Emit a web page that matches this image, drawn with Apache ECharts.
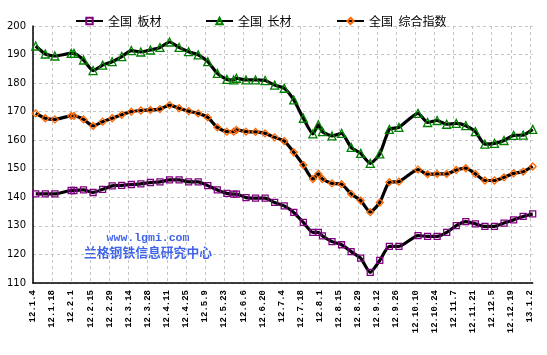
<!DOCTYPE html>
<html><head><meta charset="utf-8">
<script src="https://cdn.jsdelivr.net/npm/echarts@6/dist/echarts.min.js"></script>
<style>html,body{margin:0;padding:0;background:#fff}#c{width:547px;height:355px}</style>
</head><body><div id="c"></div>
<script>
// tick labels every 14 days starting 2012-01-04 (day 0)
const tickLabels = ['12.1.4','12.1.18','12.2.1','12.2.15','12.2.29','12.3.14','12.3.28','12.4.11','12.4.25','12.5.9','12.5.23','12.6.6','12.6.20','12.7.4','12.7.18','12.8.1','12.8.15','12.8.29','12.9.12','12.9.26','12.10.10','12.10.24','12.11.7','12.11.21','12.12.5','12.12.19','13.1.2'];
// data dates as days after 2012-01-04
const days = [2,9,16,28,30,37,44,51,58,65,72,79,86,93,100,107,114,121,128,135,142,147,149,156,163,170,177,184,191,198,205,209,212,219,226,233,240,247,254,261,268,282,289,296,303,310,317,324,331,338,345,352,359,366];
const plate = [141.2,141.2,141.2,142.4,142.4,142.6,141.7,142.8,144.0,144.2,144.5,144.7,145.2,145.4,146.1,146.1,145.4,145.4,144.1,142.6,141.4,141.1,141.1,139.9,139.7,139.7,138.2,137.0,134.7,131.2,127.7,127.7,126.5,124.5,123.4,121.0,118.7,113.7,117.9,122.8,122.8,126.6,126.3,126.3,127.7,130.1,131.5,130.7,129.8,129.8,131.0,132.1,133.3,134.2];
const longSteel = [193.0,190.2,189.5,190.4,190.4,188.1,184.4,186.3,187.5,189.3,191.4,190.9,191.6,192.5,194.4,192.5,191.0,189.9,187.5,183.4,181.3,181.1,181.7,181.1,181.1,180.9,179.3,178.2,174.1,167.7,162.2,165.4,163.0,161.5,162.4,157.5,155.4,151.9,155.2,163.8,164.5,169.4,166.2,166.9,165.6,165.9,165.1,163.0,158.6,158.9,159.9,161.7,161.8,163.8];
const composite = [169.4,167.7,167.3,168.5,168.5,167.3,165.0,166.5,167.7,168.9,170.0,170.4,170.6,170.9,172.3,171.2,170.2,169.4,168.0,164.5,163.0,163.0,163.6,163.0,162.9,162.4,161.0,159.7,155.8,151.3,146.4,148.2,146.4,144.9,144.6,141.2,138.9,134.8,138.2,145.3,145.5,149.7,148.1,148.2,148.2,149.6,150.2,148.2,145.9,145.9,147.0,148.4,149.0,150.8];
const seriesNames = ['全国  板材','全国  长材','全国  综合指数'];
const watermark = ['www.lgmi.com','兰格钢铁信息研究中心'];

const chart = echarts.init(document.getElementById('c'), null, {renderer:'canvas'});
const markers = [
  {symbol:'rect', size:6, color:'#800080', values:plate},
  {symbol:'triangle', size:8, color:'#008000', values:longSteel},
  {symbol:'diamond', size:7, color:'#FF6600', values:composite}
];
const legendLeft = [70, 200, 331];
chart.setOption({
  animation:false,
  backgroundColor:'#fff',
  grid:{left:33, right:14.3, top:26, bottom:72},
  legend: seriesNames.map((n,i)=>({
    data:[n], left:legendLeft[i], top:10, itemWidth:27, itemHeight:8, selectedMode:false,
    textStyle:{fontSize:12, color:'#000', fontFamily:'"Noto Sans CJK SC"'}
  })),
  xAxis:{
    type:'value', min:0, max:366, interval:14,
    axisLine:{lineStyle:{color:'#000', width:1.5}},
    axisTick:{show:false},
    axisLabel:{rotate:90, margin:7, fontSize:9, fontWeight:'bold', fontFamily:'"Liberation Mono"', color:'#000',
      formatter: v => (v % 14 === 0 ? (tickLabels[v/14] || '') : '')},
    splitLine:{show:true, showMaxLine:false, lineStyle:{color:'#c4c4c4', type:[3,3], width:1}}
  },
  yAxis:{
    type:'value', min:110, max:200, interval:10,
    axisLine:{show:true, lineStyle:{color:'#000', width:1.5}},
    axisTick:{show:false},
    axisLabel:{fontSize:10, fontFamily:'"DejaVu Sans"', color:'#000', margin:7},
    splitLine:{lineStyle:{color:'#c4c4c4', type:[3,3], width:1}}
  },
  graphic:[
    {type:'text', x:148, y:238, style:{text:watermark[0], fill:'#3f63ea', font:'bold 11.5px "Liberation Mono"', textAlign:'center', textVerticalAlign:'middle'}},
    {type:'text', x:148, y:252, style:{text:watermark[1], fill:'#3f63ea', font:'bold 12.8px "Noto Sans CJK SC"', textAlign:'center', textVerticalAlign:'middle'}}
  ],
  series: seriesNames.map((n,i)=>({
    name:n, type:'line', smooth:0.2, showAllSymbol:true,
    symbol:markers[i].symbol, symbolSize:markers[i].size,
    data: days.map((d,j)=>[d, markers[i].values[j]]),
    lineStyle:{color:'#000', width:3.2},
    itemStyle:{color:'rgba(255,255,255,0)', borderColor:markers[i].color, borderWidth:1.3}
  }))
});
</script></body></html>
